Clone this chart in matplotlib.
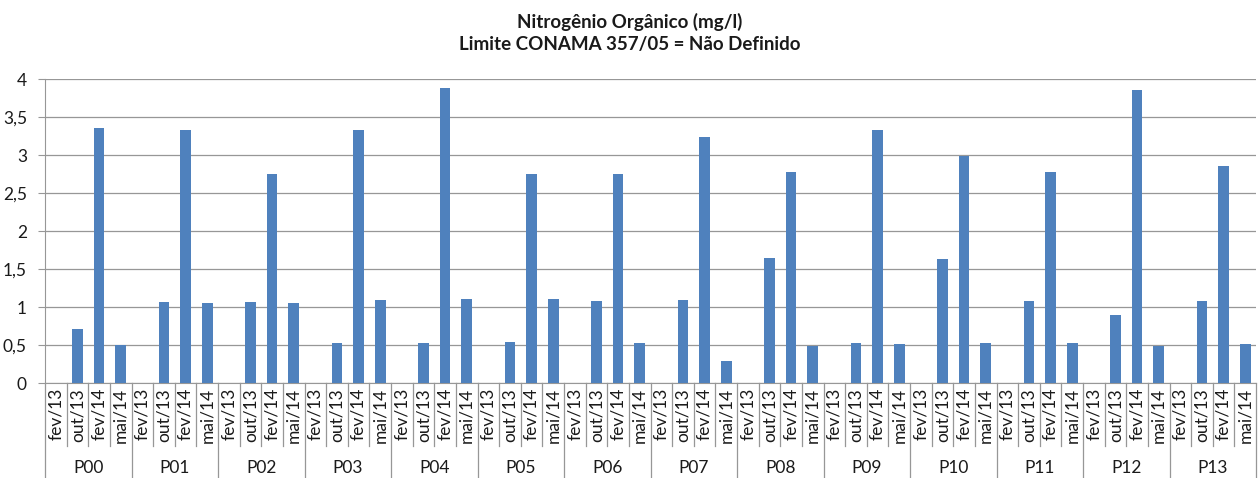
import matplotlib
matplotlib.use("Agg")
import matplotlib.pyplot as plt
from matplotlib.ticker import FuncFormatter, MultipleLocator
import matplotlib.transforms as mtransforms

plt.rcParams['font.family'] = ['Lato', 'DejaVu Sans']

points = ["P00", "P01", "P02", "P03", "P04", "P05", "P06",
          "P07", "P08", "P09", "P10", "P11", "P12", "P13"]
campaigns = ["fev/13", "out/13", "fev/14", "mai/14"]

fev13 = [0, 0, 0, 0, 0, 0, 0, 0, 0, 0, 0, 0, 0, 0]
out13 = [0.71, 1.07, 1.07, 0.53, 0.53, 0.54, 1.075, 1.09, 1.65, 0.52, 1.63, 1.075, 0.90, 1.075]
fev14 = [3.36, 3.33, 2.745, 3.33, 3.88, 2.745, 2.745, 3.24, 2.77, 3.33, 2.99, 2.77, 3.86, 2.86]
mai14 = [0.50, 1.05, 1.05, 1.09, 1.10, 1.10, 0.52, 0.29, 0.49, 0.51, 0.53, 0.52, 0.49, 0.51]

title = "Nitrogênio Orgânico (mg/l)\nLimite CONAMA 357/05 = Não Definido"

series = [fev13, out13, fev14, mai14]
values = []
labels = []
for g in range(len(points)):
    for c in range(len(campaigns)):
        values.append(series[c][g])
        labels.append(campaigns[c])
n = len(values)
xs = list(range(n))

W, H = 1260, 478
fig = plt.figure(figsize=(W / 100, H / 100), dpi=100)
ax_left, ax_right, ax_bottom, ax_top = 45, 1256, 383, 79
ax = fig.add_axes([ax_left / W, (H - ax_bottom) / H,
                   (ax_right - ax_left) / W, (ax_bottom - ax_top) / H])

gray = "#979797"
ax.bar(xs, values, width=0.5, color="#4F81BD", zorder=3)
ax.set_xlim(-0.5, n - 0.5)
ax.set_ylim(0, 4)
ax.yaxis.set_major_locator(MultipleLocator(0.5))
ax.yaxis.set_major_formatter(FuncFormatter(
    lambda v, p: ("%g" % v).replace(".", ",")))
ax.grid(axis="y", color=gray, linewidth=0.9, zorder=0)
for s in ["top", "right"]:
    ax.spines[s].set_visible(False)
ax.spines["left"].set_color(gray)
ax.spines["bottom"].set_color(gray)
ax.tick_params(axis="y", length=5, color=gray, labelsize=12.5,
               pad=8, labelcolor="#1a1a1a")
ax.set_xticks([])

trans = mtransforms.blended_transform_factory(ax.transData, ax.transAxes)
axh = ax_bottom - ax_top
cat_sep = -63 / axh
grp_sep = -(H - ax_bottom) / axh
for i in range(n + 1):
    xpos = i - 0.5
    bottom = grp_sep if i % 4 == 0 else cat_sep
    ax.plot([xpos, xpos], [0, bottom], transform=trans, color=gray,
            linewidth=0.9, clip_on=False)
for i, lab in enumerate(labels):
    ax.text(i, -5 / axh, lab, transform=trans, rotation=90, ha="center",
            va="top", fontsize=12.5, color="#1a1a1a")
for g, p in enumerate(points):
    ax.text(4 * g + 1.5, -85 / axh, p, transform=trans, ha="center",
            va="center", fontsize=12.5, color="#1a1a1a")

fig.text(0.5, 1 - 33 / H, title, ha="center", va="center", fontsize=13.5,
         fontweight="bold", linespacing=1.3, color="#1a1a1a")

fig.savefig("out.png", dpi=100)
